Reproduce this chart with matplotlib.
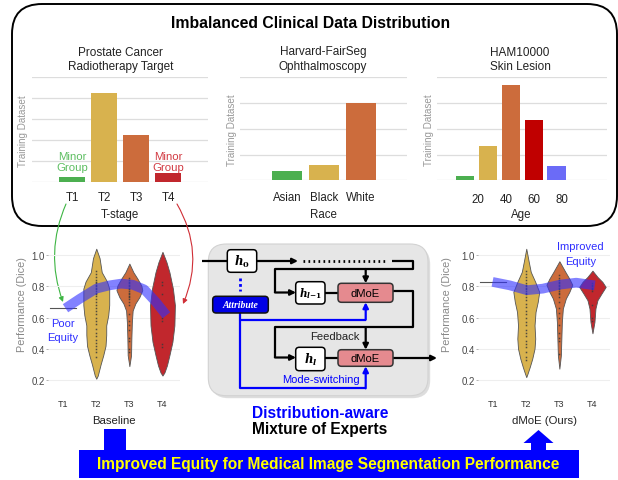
import numpy as np
import matplotlib
matplotlib.use("Agg")
import matplotlib.pyplot as plt
from matplotlib.patches import FancyBboxPatch, Rectangle, FancyArrow

plt.rcParams['font.family'] = ['Liberation Sans', 'DejaVu Sans']

# ---- datos: distribucion de entrenamiento (unidades relativas de la rejilla)
tstage_labels = ['T1', 'T2', 'T3', 'T4']
tstage_counts = [0.27, 4.25, 2.25, 0.44]
race_labels = ['Asian', 'Black', 'White']
race_counts = [0.35, 0.58, 2.99]
age_counts = [0.16, 1.32, 3.69, 2.33, 0.54]
age_tick_pos = [0.58, 1.82, 3.03, 4.24]
age_labels = ['20', '40', '60', '80']

# ---- datos: violines (nivel de Dice, densidad relativa)
base_t2_v = [1.04, 0.98, 0.89, 0.83, 0.785, 0.68, 0.615, 0.55, 0.49, 0.42, 0.36, 0.30, 0.23, 0.21]
base_t2_d = [0, 3.3, 5.5, 10.8, 13, 13, 12, 10, 10, 9.3, 7, 4.3, 1.5, 0]
base_t3_v = [0.945, 0.89, 0.85, 0.805, 0.775, 0.73, 0.69, 0.645, 0.57, 0.465, 0.36, 0.29]
base_t3_d = [0, 4, 8, 12, 13, 10, 6, 3.3, 2.5, 2, 1.7, 0]
base_t4_v = [1.02, 0.955, 0.89, 0.785, 0.68, 0.55, 0.445, 0.36, 0.295, 0.25, 0.23]
base_t4_d = [0, 4, 7, 10.5, 12.5, 12, 10, 7, 4.5, 2, 0]
base_t1 = 0.66

moe_t2_v = [1.04, 0.956, 0.892, 0.828, 0.764, 0.70, 0.636, 0.551, 0.466, 0.402, 0.338, 0.285, 0.243, 0.22]
moe_t2_d = [0, 2.5, 4.5, 9, 13, 11.5, 9.3, 8.3, 9, 8.3, 6, 3.5, 1.3, 0]
moe_t3_v = [0.96, 0.892, 0.849, 0.81, 0.764, 0.722, 0.658, 0.572, 0.466, 0.359, 0.274]
moe_t3_d = [0, 6, 10, 13, 10, 6.5, 3.5, 2.5, 2, 1.5, 0]
moe_t4_v = [0.90, 0.86, 0.828, 0.796, 0.753, 0.711, 0.658, 0.572, 0.50]
moe_t4_d = [0, 5, 10, 13.3, 9, 5, 3, 2, 0]
moe_t1 = 0.828

# puntos individuales dentro de los violines
base_t2_pts = [0.90, 0.88, 0.86, 0.84, 0.83, 0.82, 0.81, 0.80, 0.79, 0.78, 0.77, 0.76, 0.75, 0.74,
               0.72, 0.70, 0.68, 0.66, 0.64, 0.62, 0.60, 0.58, 0.56, 0.53, 0.50, 0.48, 0.46, 0.44,
               0.42, 0.40, 0.38, 0.35]
base_t3_pts = [0.85, 0.84, 0.83, 0.82, 0.81, 0.80, 0.79, 0.78, 0.77, 0.76, 0.75, 0.74, 0.73, 0.72,
               0.70, 0.68, 0.62, 0.58, 0.55, 0.52, 0.47, 0.45, 0.40, 0.38]
base_t4_pts = [0.83, 0.81, 0.75, 0.60, 0.58, 0.43, 0.41]
moe_t2_pts = [0.90, 0.88, 0.86, 0.84, 0.82, 0.81, 0.80, 0.79, 0.78, 0.77, 0.76, 0.75, 0.73, 0.71,
              0.69, 0.67, 0.64, 0.62, 0.60, 0.57, 0.55, 0.52, 0.50, 0.48, 0.45, 0.43, 0.41, 0.38,
              0.35, 0.33]
moe_t3_pts = [0.87, 0.85, 0.84, 0.83, 0.82, 0.81, 0.80, 0.79, 0.78, 0.77, 0.76, 0.75, 0.73, 0.70,
              0.66, 0.63, 0.60, 0.55, 0.50, 0.47, 0.45, 0.37]
moe_t4_pts = [0.82, 0.81, 0.80, 0.79, 0.78, 0.77, 0.68, 0.60, 0.58]

# curvas de equidad (azul)
base_curve_x = [0.07, 0.5, 1.0, 1.4, 1.75, 2.1, 2.45, 2.8, 3.12]
base_curve_y = [0.66, 0.72, 0.785, 0.806, 0.817, 0.81, 0.78, 0.70, 0.615]
moe_curve_x = [-0.02, 0.5, 1.02, 1.5, 2.03, 2.51, 3.07]
moe_curve_y = [0.828, 0.806, 0.775, 0.785, 0.811, 0.823, 0.806]

GREEN = '#4CAF50'
GOLD = '#D8B24E'
ORANGE = '#CC6C3C'
RED = '#C1272D'
BLUE = '#0000FF'

W, H = 618, 481
fig = plt.figure(figsize=(W / 100, H / 100), dpi=100)
base = fig.add_axes([0, 0, 1, 1])
base.set_xlim(0, W)
base.set_ylim(H, 0)
base.axis('off')


def px_axes(x0, y0, x1, y1):
    a = fig.add_axes([x0 / W, 1 - y1 / H, (x1 - x0) / W, (y1 - y0) / H])
    a.set_facecolor('none')
    return a


# ---------------- caja superior ----------------
base.add_patch(FancyBboxPatch((12, 5), 605, 222, boxstyle='round,pad=0,rounding_size=30',
                              fc='white', ec='black', lw=1.4))
base.text(311, 24, 'Imbalanced Clinical Data Distribution', ha='center', va='center',
          fontsize=11.3, fontweight='bold')
for cx, l1, l2 in [(120.6, 'Prostate Cancer', 'Radiotherapy Target'),
                   (323, 'Harvard-FairSeg', 'Ophthalmoscopy'),
                   (520, 'HAM10000', 'Skin Lesion')]:
    base.text(cx, 52.5, l1, ha='center', va='center', fontsize=8.5, color='#222')
    base.text(cx, 67, l2, ha='center', va='center', fontsize=8.5, color='#222')


def bar_panel(ax, vals, colors, xlim, ymax, ticks, labels, xlabel, pad, lpad):
    ax.bar(np.arange(len(vals)), vals, width=0.8, color=colors, zorder=3)
    ax.set_xlim(*xlim)
    ax.set_ylim(0, ymax)
    ax.set_yticks(np.arange(0, ymax + 1))
    ax.yaxis.grid(True, color='#DDDDDD', lw=0.9)
    ax.set_axisbelow(True)
    for s in ax.spines.values():
        s.set_visible(False)
    ax.set_xticks(ticks, labels)
    ax.tick_params(axis='x', length=0, pad=pad, labelsize=8.3, labelcolor='#222')
    ax.tick_params(axis='y', length=0, labelleft=False)
    ax.set_xlabel(xlabel, fontsize=8.3, labelpad=lpad, color='#222')
    ax.set_ylabel('Training Dataset', fontsize=7.1, color='#999999')


ax1 = px_axes(31.6, 78.3, 208.3, 183.3)
bar_panel(ax1, tstage_counts, [GREEN, GOLD, ORANGE, RED], (-1.27, 4.25), 5,
          range(4), tstage_labels, 'T-stage', 6.2, 3.7)
ax1.yaxis.set_label_coords(-0.02, 0.5)
ax2 = px_axes(240, 78.3, 407, 181.3)
bar_panel(ax2, race_counts, [GREEN, GOLD, ORANGE], (-1.27, 3.24), 4,
          range(3), race_labels, 'Race', 7.6, 3.7)
ax2.yaxis.set_label_coords(-0.015, 0.5)
ax3 = px_axes(436.8, 78.3, 606.5, 181.3)
bar_panel(ax3, age_counts, [GREEN, GOLD, ORANGE, '#C00000', '#6B6BF7'], (-1.23, 6.18), 4,
          age_tick_pos, age_labels, 'Age', 9.1, 2.3)
ax3.yaxis.set_label_coords(-0.015, 0.5)

base.text(72.3, 156.7, 'Minor', ha='center', va='center', fontsize=8.2, color='#5DBE61')
base.text(72.3, 168.3, 'Group', ha='center', va='center', fontsize=8.2, color='#5DBE61')
base.text(168.3, 156.7, 'Minor', ha='center', va='center', fontsize=8.2, color='#D23A42')
base.text(168.3, 168.3, 'Group', ha='center', va='center', fontsize=8.2, color='#D23A42')

# ---------------- violines ----------------
VW = 0.40 / 13.3


def violin_panel(ax, t1, profiles, pts, cx, cy, xlabel):
    ax.plot([-0.4, 0.4], [t1, t1], color='#555555', lw=0.8, zorder=3)
    cols = [GOLD, ORANGE, RED]
    for i, ((lev, dens), p, c) in enumerate(zip(profiles, pts, cols)):
        hw = np.array(dens) * VW
        ax.fill_betweenx(lev, i + 1 - hw, i + 1 + hw, facecolor=c, edgecolor='#555555',
                         lw=0.6, zorder=3)
        ax.plot([i + 1] * len(p), p, 's', ms=1.1, color='#3a3a3a', alpha=0.85, mew=0, zorder=4)
    ax.plot(cx, cy, color='#2F2FFF', alpha=0.6, lw=7, solid_capstyle='butt', zorder=5)
    ax.set_xlim(-0.45, 3.53)
    ax.set_ylim(0.12, 1.1)
    ax.set_yticks([0.2, 0.4, 0.6, 0.8, 1.0])
    ax.yaxis.grid(True, color='#EEEEEE', lw=0.8)
    ax.set_axisbelow(True)
    for s in ax.spines.values():
        s.set_visible(False)
    ax.set_xticks(range(4), tstage_labels)
    ax.tick_params(axis='x', length=0, pad=4.3, labelsize=6.5, labelcolor='#333')
    ax.tick_params(axis='y', length=1.5, width=0.5, color='#999', pad=1, labelsize=6.9,
                   labelcolor='#444')
    ax.set_xlabel(xlabel, fontsize=8.2, labelpad=5.5, color='#222')
    ax.set_ylabel('Performance (Dice)', fontsize=7.8, color='#888888')


axb = px_axes(48.3, 240.3, 180, 393.8)
violin_panel(axb, base_t1, [(base_t2_v, base_t2_d), (base_t3_v, base_t3_d), (base_t4_v, base_t4_d)],
             [base_t2_pts, base_t3_pts, base_t4_pts], base_curve_x, base_curve_y, 'Baseline')
axb.yaxis.set_label_coords(-0.16, 0.58)
axm = px_axes(478.3, 240.3, 610, 393.8)
violin_panel(axm, moe_t1, [(moe_t2_v, moe_t2_d), (moe_t3_v, moe_t3_d), (moe_t4_v, moe_t4_d)],
             [moe_t2_pts, moe_t3_pts, moe_t4_pts], moe_curve_x, moe_curve_y, 'dMoE (Ours)')
axm.yaxis.set_label_coords(-0.2, 0.58)

base.text(63, 324.3, 'Poor', ha='center', va='center', fontsize=8, color='#2F2FFF')
base.text(63, 338.3, 'Equity', ha='center', va='center', fontsize=8, color='#2F2FFF')
base.text(580.7, 246.7, 'Improved', ha='center', va='center', fontsize=8, color='#2F2FFF')
base.text(580.7, 261.7, 'Equity', ha='center', va='center', fontsize=8, color='#2F2FFF')

# ---------------- diagrama central ----------------
base.add_patch(FancyBboxPatch((210.5, 247.5), 219.7, 151.7, boxstyle='round,pad=0,rounding_size=18',
                              fc='#BDBDBD', ec='none', alpha=0.5))
base.add_patch(FancyBboxPatch((208.3, 245), 219.7, 151.7, boxstyle='round,pad=0,rounding_size=18',
                              fc='#E6E6E6', ec='#D2D2D2', lw=0.8))


def box(x0, y0, x1, y1, fc, ec='black'):
    base.add_patch(FancyBboxPatch((x0, y0), x1 - x0, y1 - y0, boxstyle='round,pad=0,rounding_size=3.5',
                                  fc=fc, ec=ec, lw=1.1, zorder=4))


def arrow(x0, y0, x1, y1, c='black'):
    base.annotate('', xy=(x1, y1), xytext=(x0, y0),
                  arrowprops=dict(arrowstyle='-|>', color=c, lw=1.6, mutation_scale=8,
                                  shrinkA=0, shrinkB=0), zorder=3)


K = dict(color='black', lw=1.6, zorder=3, solid_capstyle='butt')
B = dict(color=BLUE, lw=1.6, zorder=3, solid_capstyle='butt')
base.plot([202, 228], [262, 262], **K)
arrow(256.7, 262, 298, 262)
base.plot([303, 386], [262, 262], color='black', lw=2, ls=(0, (0.6, 1.2)), zorder=3)
base.plot([392, 413.3, 413.3, 275, 275], [262, 262, 270, 270, 293.5], **K)
arrow(275, 293.5, 296, 293.5)
arrow(365.7, 270, 365.7, 284.3)
base.plot([325, 338], [293.5, 293.5], **K)
base.plot([393, 413.3, 413.3, 275, 275], [291.7, 291.7, 328.3, 328.3, 358.5], **K)
arrow(275, 358.5, 296, 358.5)
arrow(365.7, 328.3, 365.7, 350.7)
base.plot([325, 338], [358.5, 358.5], **K)
arrow(393, 359, 437, 359)

base.plot([240, 240], [279, 292], color=BLUE, lw=2, ls=(0, (1, 1)), zorder=3)
base.plot([240, 240, 365.7], [314, 320.7, 320.7], **B)
arrow(365.7, 320.7, 365.7, 303.3, BLUE)
base.plot([240, 240, 365.7], [320.7, 389.3, 389.3], **B)
arrow(365.7, 389.3, 365.7, 367.3, BLUE)

box(227.3, 250.7, 256.7, 273.3, 'white')
box(295.7, 282.7, 325, 305, 'white')
box(295.7, 348.3, 325, 371.7, 'white')
box(338, 284.3, 393, 303.3, '#E58A8F', '#333333')
box(338, 350.7, 393, 367.3, '#E58A8F', '#333333')
box(212.7, 297.3, 268.3, 314, '#0000E6', '#111111')

base.text(242, 262, r'$\mathbfit{h}_\mathbf{0}$', ha='center', va='center', fontsize=8.5,
          math_fontfamily='dejavuserif', zorder=5)
base.text(310.3, 294, r'$\mathbfit{h}_{\mathbfit{l}\mathbf{-1}}$', ha='center', va='center', fontsize=7.6,
          math_fontfamily='dejavuserif', zorder=5)
base.text(310.3, 360, r'$\mathbfit{h}_\mathbfit{l}$', ha='center', va='center', fontsize=8.5,
          math_fontfamily='dejavuserif', zorder=5)
base.text(365.5, 293.8, 'dMoE', ha='center', va='center', fontsize=8.1, zorder=5)
base.text(365.5, 359, 'dMoE', ha='center', va='center', fontsize=8.1, zorder=5)
base.text(240.5, 305.7, 'Attribute', ha='center', va='center', fontsize=7, color='white',
          family='Liberation Serif', fontweight='bold', style='italic', zorder=5)
base.text(334.7, 337, 'Feedback', ha='center', va='center', fontsize=8.1, color='#222')
base.text(320.7, 380, 'Mode-switching', ha='center', va='center', fontsize=8, color=BLUE)
base.text(319.7, 414, 'Distribution-aware', ha='center', va='center', fontsize=11.2,
          fontweight='bold', color=BLUE)
base.text(319.7, 429.5, 'Mixture of Experts', ha='center', va='center', fontsize=11.2,
          fontweight='bold', color='black')

# ---------------- flechas curvas ----------------
base.annotate('', xy=(63, 303), xytext=(66, 205),
              arrowprops=dict(arrowstyle='-|>', color='#3DB543', lw=0.8, mutation_scale=7,
                              connectionstyle='arc3,rad=0.2', shrinkA=0, shrinkB=0), zorder=6)
base.annotate('', xy=(183, 305), xytext=(177, 205),
              arrowprops=dict(arrowstyle='-|>', color='#D02E36', lw=0.8, mutation_scale=7,
                              connectionstyle='arc3,rad=-0.25', shrinkA=0, shrinkB=0), zorder=6)

# ---------------- banda inferior ----------------
over = fig.add_axes([0, 0, 1, 1])
over.set_xlim(0, W)
over.set_ylim(H, 0)
over.axis('off')
over.add_patch(Rectangle((78.6, 451), 500, 28, fc=BLUE, ec='none'))
over.add_patch(Rectangle((103.6, 430), 22.4, 21.5, fc=BLUE, ec='none'))
over.add_patch(FancyArrow(538.5, 452, 0, -21, width=15, head_width=30, head_length=13,
                          length_includes_head=True, fc=BLUE, ec='none'))
over.text(328, 465, 'Improved Equity for Medical Image Segmentation Performance', ha='center',
          va='center', fontsize=11.2, fontweight='bold', color='#FFFF00')

fig.savefig('out.png', dpi=100)
